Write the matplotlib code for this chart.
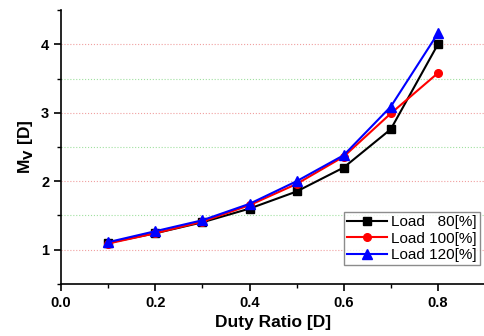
import matplotlib
matplotlib.use('Agg')
import matplotlib.pyplot as plt
from matplotlib.ticker import MultipleLocator

plt.rcParams['font.family'] = 'Liberation Sans'

duty = [0.1, 0.2, 0.3, 0.4, 0.5, 0.6, 0.7, 0.8]
load80 = [1.10, 1.24, 1.40, 1.60, 1.85, 2.20, 2.76, 4.00]
load100 = [1.09, 1.24, 1.41, 1.65, 1.96, 2.36, 2.99, 3.58]
load120 = [1.11, 1.27, 1.43, 1.67, 2.00, 2.38, 3.09, 4.16]
major_grid = [1, 2, 3, 4]
minor_grid = [1.5, 2.5, 3.5]

fig = plt.figure(figsize=(4.85, 3.36), dpi=100)
ax = fig.add_axes([0.126, 0.155, 0.874, 0.815])

ax.plot(duty, load80, color='black', marker='s', markersize=5.5, lw=1.5, label='Load   80[%]')
ax.plot(duty, load100, color='red', marker='o', markersize=5.5, lw=1.5, label='Load 100[%]')
ax.plot(duty, load120, color='blue', marker='^', markersize=6.5, lw=1.5, label='Load 120[%]')

ax.set_xlim(0, 0.9)
ax.set_ylim(0.5, 4.5)
ax.xaxis.set_major_locator(MultipleLocator(0.2))
ax.xaxis.set_minor_locator(MultipleLocator(0.1))
ax.yaxis.set_major_locator(MultipleLocator(1))
ax.yaxis.set_minor_locator(MultipleLocator(0.5))

for g in major_grid:
    ax.axhline(g, color='#f0a0a0', linestyle=':', lw=0.8, zorder=0)
for g in minor_grid:
    ax.axhline(g, color='#a0e0a0', linestyle=':', lw=0.8, zorder=0)

for s in ['top', 'right']:
    ax.spines[s].set_visible(False)
ax.spines['left'].set_linewidth(1.2)
ax.spines['bottom'].set_linewidth(1.2)
ax.tick_params(which='major', length=5, width=1.2, labelsize=10.5)
ax.tick_params(which='minor', length=3, width=1)
for lbl in ax.get_xticklabels() + ax.get_yticklabels():
    lbl.set_fontweight('bold')

ax.set_xlabel('Duty Ratio [D]', fontsize=12.5, fontweight='bold')
ax.set_ylabel('M$_\\mathbf{V}$ [D]', fontsize=12.5, fontweight='bold')

leg = ax.legend(loc='lower right', bbox_to_anchor=(0.995, 0.058), fontsize=11,
                frameon=True, fancybox=False, edgecolor='#707070', handlelength=2.6,
                borderpad=0.2, labelspacing=0.15, handletextpad=0.3, borderaxespad=0.2)
leg.get_frame().set_linewidth(1)

fig.savefig('out.png', dpi=100)
